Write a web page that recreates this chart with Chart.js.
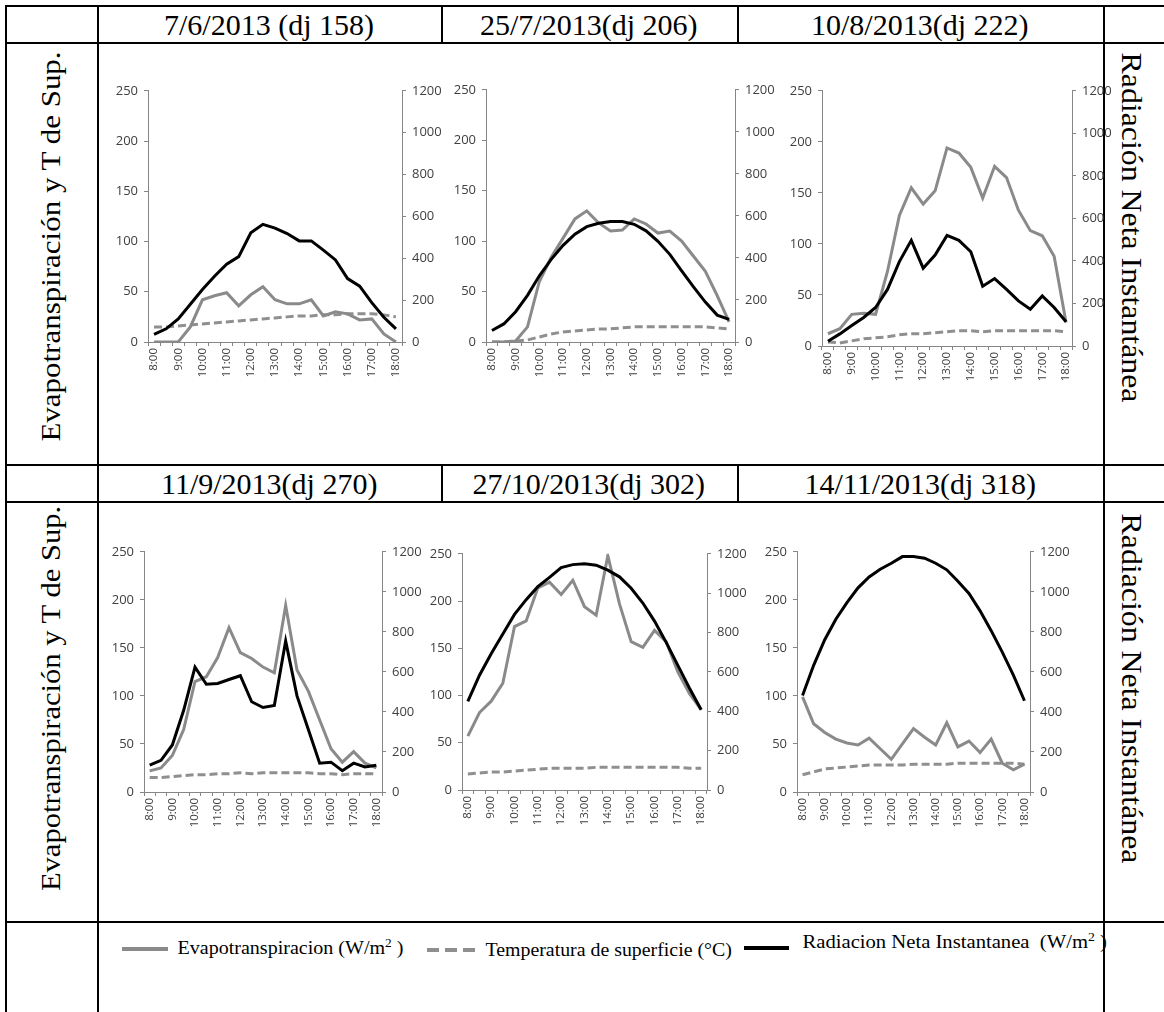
<!DOCTYPE html>
<html>
<head>
<meta charset="utf-8">
<title>Evapotranspiración y Radiación Neta</title>
<script src="https://cdn.jsdelivr.net/npm/chart.js@4.4.0/dist/chart.umd.min.js"></script>
<style>
  body { margin: 0; background: #fff; }
  #hoja { position: relative; width: 1164px; height: 1012px; overflow: hidden; background: #fff; font-family: 'Liberation Serif', 'Times New Roman', serif; color: #000; }
  .linea { position: absolute; background: #000; }
  .txt { position: absolute; white-space: nowrap; line-height: 1; }
  canvas { position: absolute; }
  .muestra { position: absolute; height: 4px; }
</style>
</head>
<body>
<div id="hoja"></div>
<script>
// categorias (cada media hora de 8:00 a 18:00)
const HORAS = ['8:00','8:30','9:00','9:30','10:00','10:30','11:00','11:30','12:00','12:30','13:00','13:30','14:00','14:30','15:00','15:30','16:00','16:30','17:00','17:30','18:00'];

const TITULOS = ['7/6/2013 (dj 158)', '25/7/2013(dj 206)', '10/8/2013(dj 222)', '11/9/2013(dj 270)', '27/10/2013(dj 302)', '14/11/2013(dj 318)'];

// Evapotranspiracion (W/m2), eje izquierdo
const ET_158 = [0,0,0,15,42,46,49,36,47,55,42,38,38,42,26,30,28,22,23,8,0];
const ET_206 = [0,0,1,15,60,84,103,122,130,118,110,111,122,117,108,110,100,85,70,46,20];
const ET_222 = [12,17,31,32,31,73,128,155,139,152,194,189,175,145,176,165,133,113,108,88,23];
const ET_270 = [22,25,38,65,115,120,140,171,145,139,130,124,194,127,105,75,45,31,42,30,25];
const ET_302 = [57,82,94,113,173,179,214,220,207,222,194,185,248,197,157,151,169,157,125,102,85];
const ET_318 = [99,71,62,55,51,49,56,45,34,50,66,57,49,72,47,53,41,55,30,23,29];

// Temperatura de superficie (°C), eje izquierdo
const T_158 = [15,15,16,17,18,19,20,21,22,23,24,25,26,26,27,27,28,28,28,27,25];
const T_206 = [0,0,1,2,5,8,10,11,12,13,13,14,15,15,15,15,15,15,15,14,13];
const T_222 = [4,3,5,7,8,9,11,12,12,13,14,15,15,14,15,15,15,15,15,15,14];
const T_270 = [15,15,16,17,18,18,19,19,20,19,20,20,20,20,20,19,19,18,19,19,19];
const T_302 = [17,18,19,19,20,21,22,23,23,23,23,24,24,24,24,24,24,24,24,23,23];
const T_318 = [18,21,24,25,26,27,28,28,28,28,29,29,29,29,30,30,30,30,30,30,29];

// Radiacion Neta Instantanea (W/m2), eje derecho
const RN_158 = [36,63,110,180,251,314,372,408,522,562,544,518,483,483,439,392,303,267,188,118,63];
const RN_206 = [55,86,144,222,315,393,460,513,549,565,573,573,560,529,479,417,338,262,190,128,108];
const RN_222 = [22,57,96,134,181,266,397,497,366,428,520,497,443,281,317,266,212,173,235,181,114];
const RN_270 = [134,158,235,408,624,538,542,562,581,451,422,432,754,480,312,144,149,106,144,125,134];
const RN_302 = [450,583,692,792,892,967,1033,1080,1130,1145,1150,1142,1117,1083,1025,950,858,750,633,517,408];
const RN_318 = [482,633,761,863,946,1020,1074,1113,1143,1176,1176,1168,1143,1110,1053,992,905,806,699,584,456];

const hoja = document.getElementById('hoja');

function linea(x, y, w, h) {
    const d = document.createElement('div');
    d.className = 'linea';
    d.style.left = x + 'px'; d.style.top = y + 'px';
    d.style.width = w + 'px'; d.style.height = h + 'px';
    hoja.appendChild(d);}

// texto ajustado a un largo, centrado en (cx, cy), con giro
function texto(html, cx, cy, largo, giro, tam) {
    const d = document.createElement('div');
    d.className = 'txt';
    d.style.fontSize = tam + 'px';
    d.innerHTML = html;
    hoja.appendChild(d);
    const w = d.offsetWidth, h = d.offsetHeight;
    const k = largo ? largo / w : 1;
    d.style.left = (cx - w / 2) + 'px';
    d.style.top = (cy - h / 2) + 'px';
    d.style.transform = 'rotate(' + giro + 'deg) scaleX(' + k + ')';}

// tabla
[5, 42, 464, 501, 921].forEach(y => linea(5, y, 1159, 2));
[5, 97, 1103].forEach(x => linea(x, 5, 2, 1007));
[441, 737].forEach(x => { linea(x, 5, 2, 38); linea(x, 464, 2, 38); });

const centros = [269, 589, 920];
TITULOS.forEach((t, i) => texto(t, centros[i % 3], i < 3 ? 25 : 484, 0, 0, 30));

texto('Evapotranspiración y T de Sup.', 51, 246, 390, -90, 27);
texto('Evapotranspiración y T de Sup.', 51, 698, 385, -90, 27);
texto('Radiación Neta Instantánea', 1131, 227, 350, 90, 29);
texto('Radiación Neta Instantánea', 1131, 688, 350, 90, 29);

// leyenda
function muestra(x, y, w, color) {
    const d = document.createElement('div');
    d.className = 'muestra';
    d.style.left = x + 'px'; d.style.top = y + 'px';
    d.style.width = w + 'px'; d.style.background = color;
    hoja.appendChild(d);}
muestra(122, 947, 46, '#8a8a8a');
[427, 445, 463].forEach(x => muestra(x, 948, 12, '#8f8f8f'));
muestra(744, 946, 45, '#000');
texto('Evapotranspiracion (W/m<sup style="font-size:12px">2</sup> )', 290, 947, 226, 0, 18);
texto('Temperatura de superficie (°C)', 608, 950, 246, 0, 18);
texto('Radiacion Neta Instantanea &nbsp;(W/m<sup style="font-size:12px">2</sup> )', 954, 941, 304, 0, 18);

// graficos: ejes L, R, T, B medidos sobre la figura
const graficos = [
    { L: 148, R: 402, T: 87, B: 342, et: ET_158, t: T_158, rn: RN_158 },
    { L: 486, R: 735, T: 86, B: 342, et: ET_206, t: T_206, rn: RN_206 },
    { L: 822, R: 1072, T: 87, B: 346, et: ET_222, t: T_222, rn: RN_222 },
    { L: 144, R: 382, T: 548, B: 792, et: ET_270, t: T_270, rn: RN_270 },
    { L: 462, R: 707, T: 550, B: 790, et: ET_302, t: T_302, rn: RN_302 },
    { L: 797, R: 1030, T: 548, B: 792, et: ET_318, t: T_318, rn: RN_318 }];

const gris = '#868686';
const fuenteEje = { family: "'Open Sans', 'DejaVu Sans', sans-serif", size: 13 };
const fuenteX = { family: "'Open Sans', 'DejaVu Sans', sans-serif", size: 11.5 };

graficos.forEach(g => {
    const c = document.createElement('canvas');
    const izq = 44, der = 48, arriba = 10, abajo = 42;
    c.width = g.R - g.L + izq + der;
    c.height = g.B - g.T + arriba + abajo;
    c.style.left = (g.L - izq) + 'px';
    c.style.top = (g.T - arriba) + 'px';
    hoja.appendChild(c);

    new Chart(c, {
        type: 'line',
        data: {
            labels: HORAS,
            datasets: [
                { label: 'Evapotranspiracion (W/m2)', data: g.et, borderColor: '#8a8a8a', borderWidth: 3, yAxisID: 'y', order: 2 },
                { label: 'Temperatura de superficie (°C)', data: g.t, borderColor: '#8f8f8f', borderWidth: 3, borderDash: [8, 4], yAxisID: 'y', order: 3 },
                { label: 'Radiacion Neta Instantanea (W/m2)', data: g.rn, borderColor: '#000', borderWidth: 3, yAxisID: 'y1', order: 1 }]},
        options: {
            responsive: false, animation: false, events: [],
            layout: { padding: { top: arriba } },
            elements: { point: { radius: 0 }, line: { tension: 0 } },
            plugins: { legend: { display: false }, tooltip: { enabled: false } },
            scales: {
                x: {
                    offset: true,
                    grid: { offset: true, drawOnChartArea: false, tickLength: 4, color: gris },
                    border: { color: gris },
                    ticks: { autoSkip: false, maxRotation: 90, minRotation: 90, color: '#404040', font: fuenteX, padding: 2,
                        callback: (v, i) => i % 2 === 0 ? HORAS[i] : '' },
                    afterFit: s => { s.height = abajo; }},
                y: {
                    position: 'left', min: 0, max: 250,
                    grid: { drawOnChartArea: false, tickLength: 4, color: gris },
                    border: { color: gris },
                    ticks: { stepSize: 50, color: '#404040', font: fuenteEje, padding: 6, callback: v => String(v) },
                    afterFit: s => { s.width = izq; }},
                y1: {
                    position: 'right', min: 0, max: 1200,
                    grid: { drawOnChartArea: false, tickLength: 4, color: gris },
                    border: { color: gris },
                    ticks: { stepSize: 200, color: '#404040', font: fuenteEje, padding: 6, callback: v => String(v) },
                    afterFit: s => { s.width = der; }}}}});});
</script>
</body>
</html>
